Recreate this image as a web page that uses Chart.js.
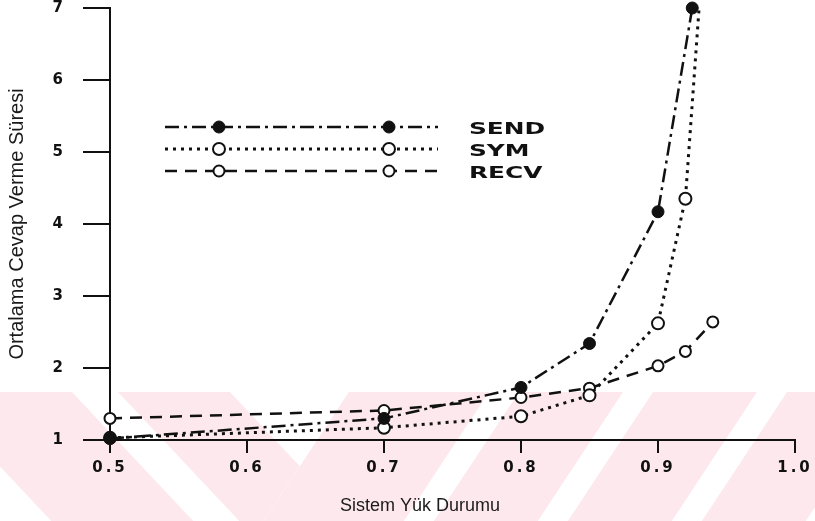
<!DOCTYPE html>
<html><head><meta charset="utf-8">
<script src="https://cdn.jsdelivr.net/npm/chart.js@4.4.1/dist/chart.umd.min.js"></script>
<style>html,body{margin:0;padding:0;background:#fff;}#wrap{width:815px;height:521px;position:relative;}</style>
</head><body><div id="wrap"><canvas id="c" width="815" height="521"></canvas></div>
<script>
// ---- data ----
const seriesNames = ['SEND', 'SYM', 'RECV'];
const sendX = [0.5, 0.7, 0.8, 0.85, 0.9, 0.925];
const sendY = [1.02, 1.30, 1.73, 2.34, 4.17, 7.0];
const symX  = [0.5, 0.7, 0.8, 0.85, 0.9, 0.92, 0.93];
const symY  = [1.03, 1.17, 1.33, 1.62, 2.62, 4.35, 7.0];
const recvX = [0.5, 0.7, 0.8, 0.85, 0.9, 0.92, 0.94];
const recvY = [1.30, 1.41, 1.59, 1.72, 2.03, 2.23, 2.64];
const xTicks = [0.5, 0.6, 0.7, 0.8, 0.9, 1.0];
const xTickLabels = ['0.5', '0.6', '0.7', '0.8', '0.9', '1.0'];
const yTicks = [1, 2, 3, 4, 5, 6, 7];
const yTickLabels = ['1', '2', '3', '4', '5', '6', '7'];
const xTitle = 'Sistem Yük Durumu';
const yTitle = 'Ortalama Cevap Verme Süresi';

const INK = '#111';
const toPts = (xs, ys) => xs.map((x, i) => ({x: x, y: ys[i]}));

function watermark(ctx) {
  const top = 392, bot = 521, W = 815, H = bot - top;
  const sL = 0.94, sR = -0.66, ax = 300, ay = 466;
  const xB = y => ax + sR * (y - ay);
  const band = (a, b, s) => {
    ctx.beginPath();
    ctx.moveTo(a, top); ctx.lineTo(b, top);
    ctx.lineTo(b + s * H, bot); ctx.lineTo(a + s * H, bot); ctx.closePath(); ctx.fill();
  };
  ctx.save();
  ctx.beginPath(); ctx.rect(0, top, W, H); ctx.clip();
  ctx.fillStyle = '#fde9ed';
  ctx.save();
  ctx.beginPath(); ctx.moveTo(-20, top); ctx.lineTo(xB(top), top); ctx.lineTo(xB(bot), bot); ctx.lineTo(-20, bot); ctx.closePath(); ctx.clip();
  [[-70, 72], [118, 230]].forEach(([a, b]) => band(a, b, sL));
  ctx.restore();
  ctx.save();
  ctx.beginPath(); ctx.moveTo(xB(top), top); ctx.lineTo(W + 200, top); ctx.lineTo(W + 200, bot); ctx.lineTo(xB(bot), bot); ctx.closePath(); ctx.clip();
  ctx.fillRect(0, top, W + 200, H);
  ctx.fillStyle = '#ffffff';
  [[489, 519], [623, 653], [757, 787], [891, 921]].forEach(([a, b]) => band(a, b, sR));
  ctx.restore();
  ctx.restore();
}

const decor = {
  id: 'decor',
  beforeDraw(chart) {
    const ctx = chart.ctx;
    ctx.save();
    ctx.fillStyle = '#fff';
    ctx.fillRect(0, 0, chart.width, chart.height);
    watermark(ctx);
    ctx.restore();
  },
  afterDatasetsDraw(chart) {
    chart.ctx.letterSpacing = '3px';
  },
  afterDraw(chart) {
    const ctx = chart.ctx;
    ctx.letterSpacing = '0px';
    ctx.save();
    ctx.fillStyle = '#1a1a1a';
    ctx.font = '18px "Liberation Sans", Arial, sans-serif';
    ctx.textAlign = 'center';
    ctx.textBaseline = 'middle';
    ctx.fillText(xTitle, 420, 506);
    ctx.restore();
    const rows = [127, 149, 171];
    const baselines = [134, 156, 178];
    chart.data.datasets.forEach((ds, i) => {
      const y = rows[i];
      ctx.save();
      ctx.strokeStyle = ds.borderColor;
      ctx.lineWidth = ds.borderWidth;
      ctx.setLineDash(ds.borderDash);
      ctx.beginPath(); ctx.moveTo(165, y); ctx.lineTo(438, y); ctx.stroke();
      ctx.setLineDash([]);
      [219, 389].forEach(px => {
        ctx.beginPath();
        ctx.arc(px, y, ds.legendRadius, 0, Math.PI * 2);
        ctx.fillStyle = ds.pointBackgroundColor;
        ctx.fill();
        ctx.lineWidth = ds.pointBorderWidth;
        ctx.strokeStyle = ds.pointBorderColor;
        ctx.stroke();
      });
      ctx.fillStyle = INK;
      ctx.font = 'bold 16px "DejaVu Sans", sans-serif';
      ctx.textAlign = 'left';
      ctx.textBaseline = 'alphabetic';
      ctx.translate(469, baselines[i]);
      ctx.scale(1.55, 1);
      ctx.fillText(ds.label, 0, 0);
      ctx.restore();
    });
  }
};

const tickFont = {family: '"DejaVu Sans", sans-serif', size: 15, weight: 'bold'};

new Chart(document.getElementById('c'), {
  type: 'line',
  data: {
    datasets: [
      {
        label: seriesNames[0], data: toPts(sendX, sendY),
        borderColor: INK, borderWidth: 2.5, borderDash: [14, 5, 3, 5],
        pointRadius: 6, pointHoverRadius: 6, legendRadius: 6,
        pointBackgroundColor: INK, pointBorderColor: INK, pointBorderWidth: 1,
        tension: 0, clip: false
      },
      {
        label: seriesNames[1], data: toPts(symX, symY),
        borderColor: INK, borderWidth: 3, borderDash: [3, 5],
        pointRadius: c => (c.raw && c.raw.y >= 7 ? 0 : 6), legendRadius: 6,
        pointBackgroundColor: '#fff', pointBorderColor: INK, pointBorderWidth: 2,
        tension: 0, clip: false
      },
      {
        label: seriesNames[2], data: toPts(recvX, recvY),
        borderColor: INK, borderWidth: 2.5, borderDash: [12, 8],
        pointRadius: 5.5, legendRadius: 5.5,
        pointBackgroundColor: '#fff', pointBorderColor: INK, pointBorderWidth: 2,
        tension: 0, clip: false
      }
    ]
  },
  options: {
    responsive: false,
    animation: false,
    devicePixelRatio: 1,
    layout: {padding: {top: 6, right: 20, left: 0, bottom: 0}},
    plugins: {legend: {display: false}, tooltip: {enabled: false}},
    scales: {
      x: {
        type: 'linear', min: 0.5, max: 1.0,
        afterBuildTicks: s => { s.ticks = xTicks.map(v => ({value: v})); },
        afterFit: s => { s.height = 81; s.paddingLeft = 0; s.paddingRight = 0; },
        grid: {drawOnChartArea: false, drawTicks: true, tickLength: 13, color: INK, lineWidth: 2},
        border: {display: true, color: INK, width: 2},
        ticks: {
          font: tickFont, color: INK, padding: 6, maxRotation: 0, autoSkip: false, z: 1,
          callback: (v, i) => xTickLabels[i]
        },
        title: {display: false}
      },
      y: {
        type: 'linear', min: 1, max: 7,
        afterBuildTicks: s => { s.ticks = yTicks.map(v => ({value: v})); },
        afterFit: s => { s.width = 110; s.paddingTop = 0; s.paddingBottom = 0; },
        grid: {drawOnChartArea: false, drawTicks: true, tickLength: 27, color: INK, lineWidth: 2},
        border: {display: true, color: INK, width: 2},
        ticks: {
          font: tickFont, color: INK, padding: 17, autoSkip: false, z: 1,
          callback: (v, i) => yTickLabels[i]
        },
        title: {
          display: true, text: yTitle, color: '#1a1a1a',
          font: {family: '"Liberation Sans", Arial, sans-serif', size: 20},
          padding: {top: 5, bottom: 0}
        }
      }
    }
  },
  plugins: [decor]
});
</script>
</body></html>
